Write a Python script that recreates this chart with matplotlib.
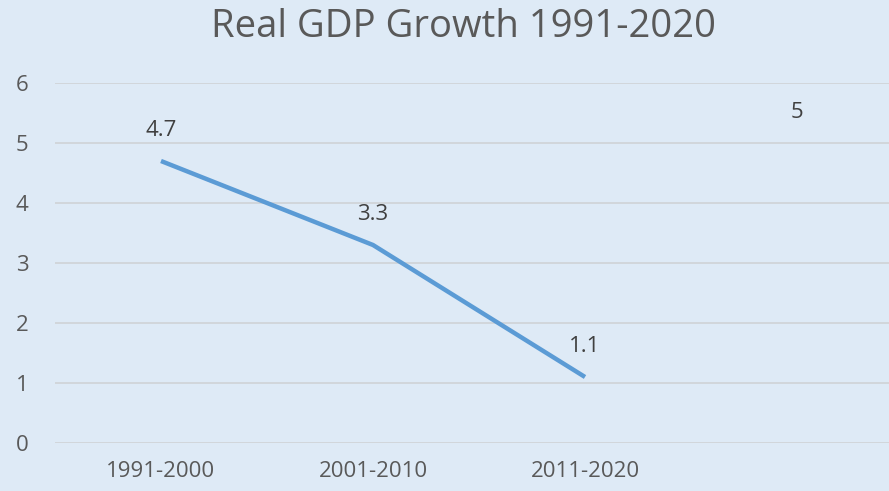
import matplotlib
matplotlib.use("Agg")
import matplotlib.pyplot as plt

categories = ["1991-2000", "2001-2010", "2011-2020", ""]
growth = [4.7, 3.3, 1.1, None]
extra_label = [None, None, None, 5]
yticks = [0, 1, 2, 3, 4, 5, 6]

bg = "#DEEAF6"
txt = "#595959"

plt.rcParams['font.family'] = ['Open Sans', 'DejaVu Sans']

fig = plt.figure(figsize=(8.89, 4.91), dpi=100, facecolor=bg)
W, H = 889, 491
ax = fig.add_axes([55 / W, 1 - 443 / H, (903 - 55) / W, (443 - 83) / H])
ax.set_facecolor(bg)

x = list(range(len(categories)))
xs = [i for i, v in zip(x, growth) if v is not None]
ys = [v for v in growth if v is not None]
ax.plot(xs, ys, color="#5B9BD5", linewidth=3.2, solid_capstyle="butt", zorder=3)

for i, v in zip(xs, ys):
    ax.annotate(f"{v:g}", (i, v), xytext=(0, 22), textcoords="offset points",
                ha="center", va="center", fontsize=16, color="#404040")
for i, v in zip(x, extra_label):
    if v is not None:
        ax.annotate(f"{v:g}", (i, v), xytext=(0, 22), textcoords="offset points",
                    ha="center", va="center", fontsize=16, color="#404040")

ax.set_xlim(-0.5, 3.5)
ax.set_ylim(0, 6)
ax.set_yticks(yticks)
ax.set_xticks(x)
ax.set_xticklabels(categories)
ax.grid(axis="y", color="#D0D4D9", linewidth=1.3)
ax.set_axisbelow(True)
for s in ax.spines.values():
    s.set_visible(False)
ax.tick_params(axis="both", length=0, labelsize=16, labelcolor=txt)
ax.tick_params(axis="y", pad=19)
ax.tick_params(axis="x", pad=13)

fig.text(463 / W, 1 - 27 / H, "Real GDP Growth 1991-2020", ha="center", va="center",
         fontsize=27.5, color=txt)

fig.savefig("out.png", dpi=100, facecolor=bg)
